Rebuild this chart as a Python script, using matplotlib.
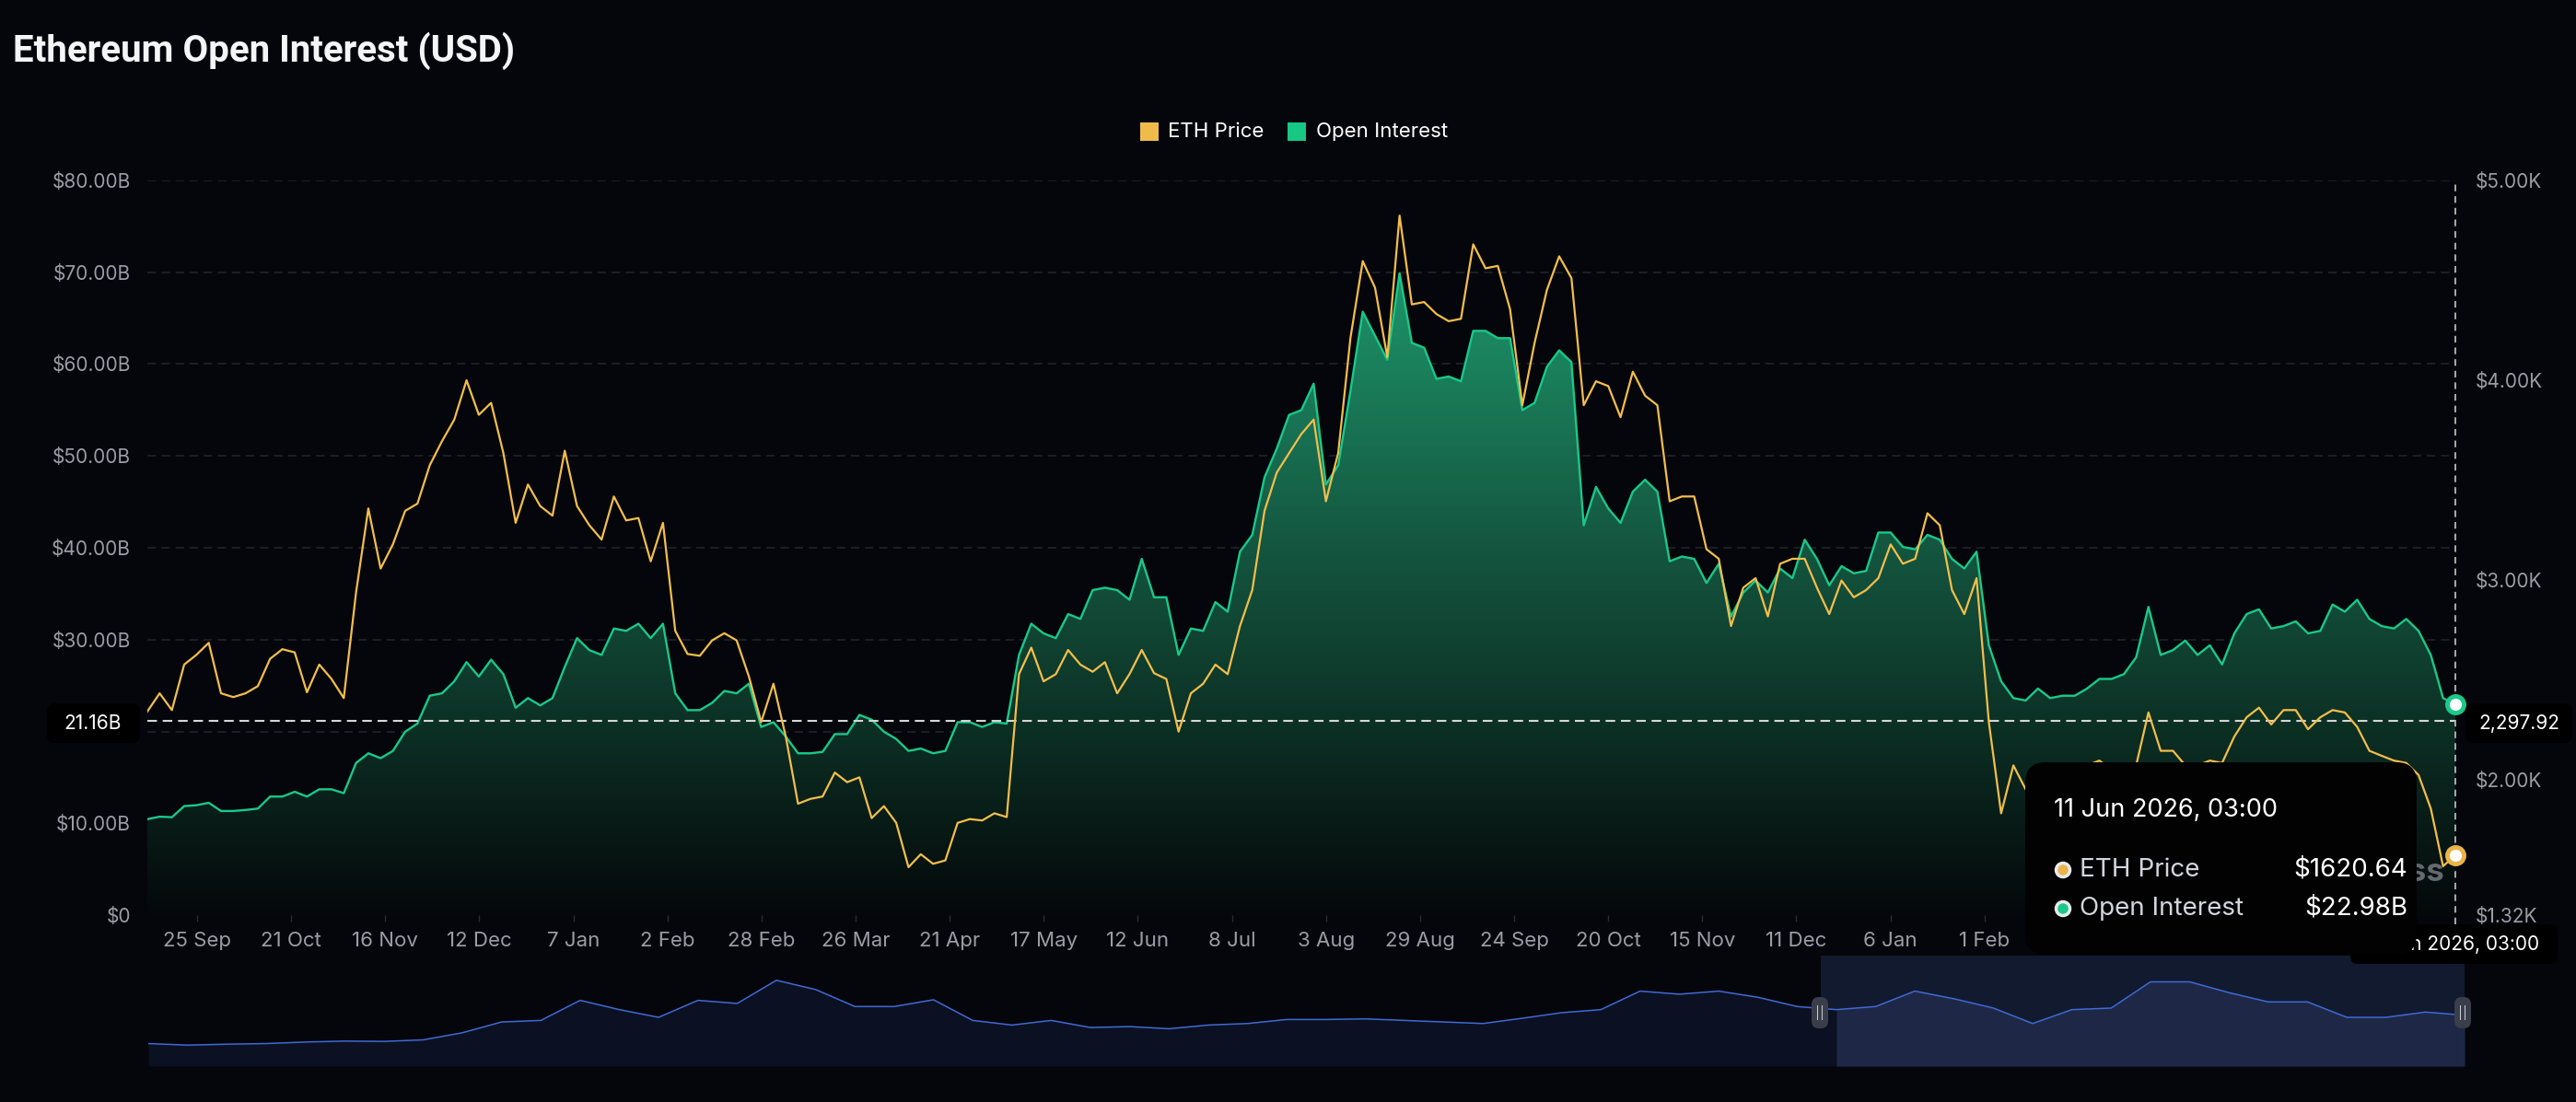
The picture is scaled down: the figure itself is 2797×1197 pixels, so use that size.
import numpy as np
import pandas as pd
import matplotlib.pyplot as plt
import matplotlib.dates as mdates
import matplotlib.transforms as mtransforms
from matplotlib.patches import FancyBboxPatch, Rectangle
from matplotlib.colors import LinearSegmentedColormap

# ---- data ----
# evenly spaced samples between these two timestamps
start_date = "2024-09-11 06:00"
end_date = "2026-06-11 03:00"

open_interest = [  # $B
    10.45, 10.72, 10.66, 11.87, 11.97, 12.23, 11.34, 11.34, 11.45, 11.60,
    12.91, 12.91, 13.43, 12.91, 13.70, 13.70, 13.28, 16.57, 17.62, 17.09,
    17.88, 19.97, 20.86, 23.89, 24.15, 25.46, 27.55, 25.98, 27.81, 26.24,
    22.58, 23.63, 22.84, 23.63, 27.03, 30.16, 28.86, 28.33,
    31.21, 30.95, 31.73, 30.16, 31.73, 24.15, 22.32, 22.32, 23.11, 24.41,
    24.15, 25.20, 20.49, 21.01, 19.45, 17.62, 17.62, 17.77, 19.71, 19.71,
    21.80, 21.28, 19.97, 19.18, 17.88, 18.14, 17.62, 17.88, 21.01, 21.01,
    20.49, 21.01, 20.86, 28.33, 31.73, 30.68, 30.16, 32.78,
    32.25, 35.39, 35.65, 35.39, 34.34, 38.79, 34.61, 34.61, 28.33, 31.21,
    30.95, 34.08, 33.04, 39.57, 41.40, 47.67, 50.81, 54.47, 54.99, 57.87,
    46.89, 48.98, 57.08, 65.71, 63.09, 60.48, 69.89, 62.31, 61.79, 58.39,
    58.65, 58.13, 63.62, 63.62, 62.83, 62.83, 54.99, 55.78,
    59.70, 61.50, 60.22, 42.45, 46.63, 44.28, 42.71, 46.11, 47.41, 46.11,
    38.53, 39.05, 38.79, 36.17, 38.26, 32.51, 35.13, 36.43, 35.13, 37.74,
    36.70, 40.88, 38.79, 35.91, 38.00, 37.22, 37.48, 41.66, 41.66, 40.09,
    39.83, 41.40, 40.88, 38.79, 37.74, 39.57, 29.38,
    25.46, 23.63, 23.37, 24.67, 23.63, 23.89, 23.89, 24.67, 25.72, 25.72,
    26.24, 28.07, 33.56, 28.33, 28.86, 29.90, 28.33, 29.38, 27.29, 30.68,
    32.78, 33.30, 31.21, 31.47, 31.99, 30.68, 30.95, 33.82, 33.04, 34.34,
    32.25, 31.47, 31.21, 32.25, 30.95, 28.33, 23.63, 22.98,
]

eth_price = [  # $
    2340, 2431, 2347, 2575, 2624, 2684, 2431, 2412, 2431, 2467,
    2604, 2652, 2636, 2436, 2575, 2503, 2407, 2936, 3357, 3056,
    3177, 3345, 3381, 3573, 3694, 3802, 3999, 3826, 3886, 3634,
    3285, 3477, 3369, 3321, 3646, 3369, 3273, 3201,
    3417, 3297, 3309, 3092, 3285, 2744, 2628, 2619, 2696, 2732,
    2696, 2515, 2287, 2479, 2215, 1878, 1902, 1914, 2034, 1986,
    2010, 1806, 1866, 1782, 1560, 1625, 1577, 1594, 1782, 1801,
    1794, 1830, 1811, 2527, 2660, 2491, 2527, 2648,
    2575, 2539, 2587, 2431, 2527, 2648, 2532, 2503, 2239, 2431,
    2479, 2575, 2527, 2768, 2948, 3345, 3537, 3634, 3730, 3802,
    3393, 3634, 4211, 4596, 4463, 4115, 4824, 4379, 4391, 4331,
    4295, 4307, 4680, 4560, 4572, 4355, 3874, 4187,
    4451, 4620, 4511, 3874, 3994, 3970, 3814, 4042, 3922, 3874,
    3393, 3417, 3417, 3153, 3105, 2768, 2960, 3008, 2816, 3080,
    3105, 3105, 2960, 2828, 2996, 2912, 2948, 3008, 3177, 3080,
    3105, 3333, 3273, 2948, 2828, 3008, 2287,
    1830, 2070, 1950, 1974, 1998, 2022, 2046, 2070, 2094, 2046,
    2022, 2070, 2335, 2143, 2143, 2070, 2070, 2094, 2082, 2215,
    2311, 2359, 2275, 2347, 2347, 2251, 2311, 2347, 2335, 2263,
    2143, 2118, 2094, 2082, 2022, 1854, 1565, 1620.64,
]

tick_labels = ["25 Sep", "21 Oct", "16 Nov", "12 Dec", "7 Jan", "2 Feb", "28 Feb",
               "26 Mar", "21 Apr", "17 May", "12 Jun", "8 Jul", "3 Aug", "29 Aug",
               "24 Sep", "20 Oct", "15 Nov", "11 Dec", "6 Jan", "1 Feb"]
first_tick = "2024-09-25"

oi_ticks = [0, 10, 20, 30, 40, 50, 60, 70, 80]
price_ticks = [1320, 2000, 3000, 4000, 5000]

# navigator (overview) series, relative height
navigator = [73, 68, 71, 73, 78, 81, 80, 85, 108, 143, 148, 213, 183, 158, 213,
             203, 278, 248, 193, 193, 215, 148, 133, 148, 125, 128, 121, 133, 138, 151,
             151, 153, 148, 143, 138, 155, 173, 183, 243, 233, 243, 223, 193, 183, 193,
             243, 218, 188, 138, 183, 188, 273, 273, 238, 208, 208, 158, 158, 175, 165]

cross_oi = 21.16
cross_price = 2297.92
tooltip_date = "11 Jun 2026, 03:00"

# ---- style ----
BG = "#05060b"
GREEN = "#19c98a"
YELLOW = "#f3be4b"
TICK = "#9a9da6"
GRID = "#24262d"
W, H = 2797, 1197
FONT = "Inter"

plt.rcParams["font.family"] = [FONT, "DejaVu Sans"]

fig = plt.figure(figsize=(W / 100, H / 100), dpi=100, facecolor=BG)
PIX = mtransforms.IdentityTransform()


def pbox(x0, y0, x1, y1, r, color, z=10):
    p = FancyBboxPatch((x0, H - y1), x1 - x0, y1 - y0,
                       boxstyle=f"round,pad=0,rounding_size={r}",
                       transform=PIX, facecolor=color, edgecolor="none", zorder=z)
    fig.add_artist(p)


def ptext(x, y, s, z=11, **kw):
    fig.text(x, H - y, s, transform=PIX, zorder=z, **kw)


dates = pd.date_range(start_date, end_date, periods=len(open_interest))
ticks = pd.date_range(first_tick, periods=len(tick_labels), freq="26D")
xnum = mdates.date2num(dates)

ax = fig.add_axes([160 / W, 1 - 994 / H, (2666 - 160) / W, (994 - 196) / H])
ax.set_facecolor("none")
ax2 = ax.twinx()

# OI gradient area
cmap = LinearSegmentedColormap.from_list(
    "oi", [(0, "#04080a"), (0.25, "#0c2f24"), (0.5, "#145640"), (0.85, "#1d9168"), (1, "#22a473")])
grad = np.linspace(0, 1, 256).reshape(-1, 1)
im = ax.imshow(grad, extent=[xnum[0], xnum[-1], 0, 80], origin="lower",
               aspect="auto", cmap=cmap, zorder=1)
poly = ax.fill_between(xnum, open_interest, 0, color="none", lw=0)
im.set_clip_path(poly.get_paths()[0], transform=ax.transData)
ax.plot(xnum, open_interest, color=GREEN, lw=1.7, zorder=3)

ax2.plot(xnum, eth_price, color=YELLOW, lw=1.6, zorder=3)

ax.set_xlim(xnum[0], xnum[-1])
ax.set_ylim(0, 80)
ax2.set_ylim(1320, 5000)

for y in oi_ticks:
    ax.axhline(y, color=GRID, lw=1.1, ls=(0, (6, 4)), zorder=0)

# the $20.00B label sits under the crosshair label in the reference
ax.set_yticks(oi_ticks)
ax.set_yticklabels(["$0" if v == 0 else ("" if v == 20 else f"${v:.2f}B") for v in oi_ticks])
ax2.set_yticks(price_ticks)
ax2.set_yticklabels([f"${v / 1000:.2f}K" for v in price_ticks])
ax.set_xticks(mdates.date2num(ticks))
ax.set_xticklabels(tick_labels)

ax.tick_params(axis="y", length=0, pad=13, labelsize=15, labelcolor=TICK)
ax2.tick_params(axis="y", length=0, pad=16, labelsize=15, labelcolor=TICK)
ax.tick_params(axis="x", length=5, width=1, color="#2a2c33", pad=8, labelsize=16, labelcolor=TICK)
for a in (ax, ax2):
    for s in a.spines.values():
        s.set_visible(False)
ax.grid(False)

# crosshair
ax.axhline(cross_oi, color="#d6d6d6", lw=1.5, ls=(0, (5, 3)), zorder=4)
ax.axvline(xnum[-1], ymin=-0.013, ymax=1, color="#b8b8b8", lw=1.3,
           ls=(0, (4, 3)), zorder=4, clip_on=False)

ax.plot(xnum[-1], open_interest[-1], "o", ms=13, mfc="white", mec=GREEN, mew=3.5,
        zorder=6, clip_on=False)
ax2.plot(xnum[-1], eth_price[-1], "o", ms=13, mfc="white", mec="#e9b44a", mew=3.5,
         zorder=6, clip_on=False)

# watermark (mostly hidden by tooltip)
ax.text(0.9955, 0.058, "coinglass", transform=ax.transAxes, ha="right", va="center",
        fontsize=25, fontweight="bold", color="#7d8088", alpha=0.8, zorder=2)

# navigator
nav = fig.add_axes([161 / W, 1 - 1158 / H, (2676 - 161) / W, (1158 - 1038) / H])
nav.set_facecolor("none")
nx = np.arange(len(navigator))
sel0 = 0.722 * (len(navigator) - 1)
nav.axvspan(sel0, nx[-1], color="#121a2f", zorder=0, lw=0)
nav.fill_between(nx, navigator, 0, color="#0b1122", lw=0, zorder=1)
nav.fill_between(nx, navigator, 0, where=nx >= sel0 - 0.5, color="#1e2846", lw=0, zorder=2)
nav.plot(nx, navigator, color="#3f6ad6", lw=1.1, zorder=3)
nav.set_xlim(0, nx[-1])
nav.set_ylim(0, 358)
nav.axis("off")

for hx in (1976, 2674):
    pbox(hx - 9, 1083, hx + 9, 1117, 8, "#3a3e4a", z=12)
    for dx in (-2.5, 2.5):
        fig.add_artist(Rectangle((hx + dx - 0.8, H - 1108), 1.6, 16, transform=PIX,
                                 facecolor="#c9ccd3", zorder=13))

# title and legend
ptext(14, 55, "Ethereum Open Interest (USD)", fontsize=29, fontweight="bold",
      color="#f4f5f7", va="center", family=["Roboto", "DejaVu Sans"])
fig.add_artist(Rectangle((1238, H - 153), 20, 20, transform=PIX, facecolor="#efbc4c", zorder=11))
ptext(1268, 143, "ETH Price", fontsize=16, color="white", va="center")
fig.add_artist(Rectangle((1398, H - 153), 20, 20, transform=PIX, facecolor="#17c784", zorder=11))
ptext(1429, 143, "Open Interest", fontsize=16, color="white", va="center")

# crosshair labels
pbox(51, 764, 152, 807, 8, "#000000")
ptext(101, 786, f"{cross_oi:.2f}B", fontsize=15, color="white", ha="center", va="center")
pbox(2677, 764, 2793, 807, 8, "#000000")
ptext(2735, 786, f"{cross_price:,.2f}", fontsize=15, color="white", ha="center", va="center")
pbox(2552, 1004, 2777, 1047, 8, "#000000")
ptext(2664, 1026, tooltip_date, fontsize=15, color="white", ha="center", va="center")

# tooltip
pbox(2199, 828, 2624, 1037, 22, "#020203", z=14)
ptext(2230, 880, tooltip_date, fontsize=19.5, color="white", va="center", z=15)
rows = [("ETH Price", f"${eth_price[-1]:.2f}", "#e9b44a", 945),
        ("Open Interest", f"${open_interest[-1]:.2f}B", GREEN, 987)]
for label, val, col, y in rows:
    fig.add_artist(plt.Circle((2240, H - y), 7.5, transform=PIX, facecolor=col,
                              edgecolor="#e8e9ec", lw=2.5, zorder=15))
    ptext(2258, y, label, fontsize=20, color="#d2d5dc", va="center", z=15)
    ptext(2614, y, val, fontsize=20, color="white", ha="right", va="center", z=15)

fig.savefig("out.png", dpi=100, facecolor=BG)
